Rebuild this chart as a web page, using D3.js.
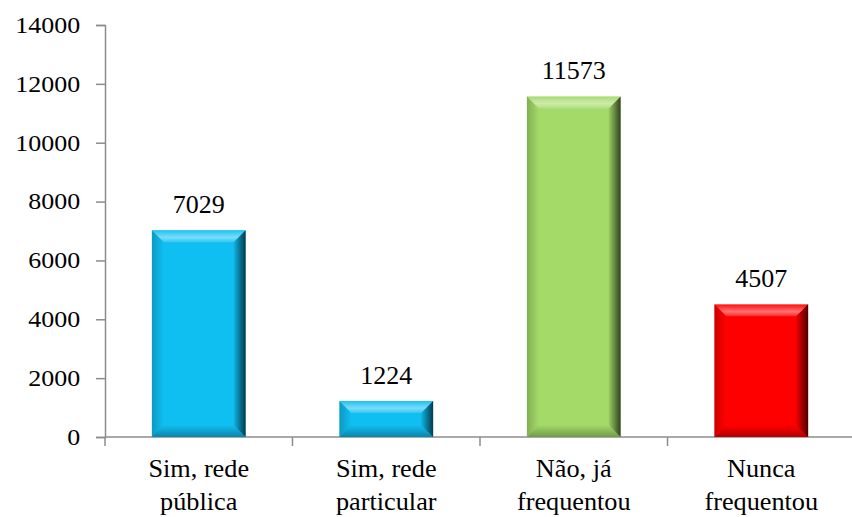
<!DOCTYPE html>
<html>
<head>
    <meta charset="utf-8">
    <script src="https://d3js.org/d3.v7.min.js"></script>
</head>
<body style="margin: 0; background: white;">
<div id="grafico"></div>
<script>
    // data
    var categories = [["Sim, rede", "pública"], ["Sim, rede", "particular"], ["Não, já", "frequentou"], ["Nunca", "frequentou"]];
    var values = [7029, 1224, 11573, 4507];
    var barColors = ["#0fbff2", "#0fbff2", "#a3da68", "#ff0000"];
    var yTicks = [0, 2000, 4000, 6000, 8000, 10000, 12000, 14000];

    var W = 852, H = 517;
    var plotLeft = 105, plotTop = 25, plotBottom = 437, plotRight = 855;
    var serif = "Liberation Serif";

    var svg = d3.select("#grafico").append("svg")
        .attr("width", W)
        .attr("height", H);

    var defs = svg.append("defs");
    function grad(id, x2, y2, stops) {
        var g = defs.append("linearGradient").attr("id", id)
            .attr("x1", 0).attr("y1", 0).attr("x2", x2).attr("y2", y2);
        stops.forEach(function(s) {
            g.append("stop").attr("offset", s[0]).attr("stop-color", s[1]).attr("stop-opacity", s[2]);
        });
    }
    grad("bvTop", 0, 1, [[0, "#fff", 0.05], [0.6, "#fff", 0.45], [1, "#fff", 0.15]]);
    grad("bvRight", 1, 0, [[0, "#000", 0.05], [1, "#000", 0.7]]);
    grad("bvBottom", 0, 1, [[0, "#000", 0.0], [1, "#000", 0.3]]);
    grad("bvLeft", 1, 0, [[0, "#000", 0.2], [1, "#000", 0.0]]);

    var x = d3.scaleBand()
        .domain(d3.range(values.length))
        .range([plotLeft, plotRight])
        .paddingInner(0.5)
        .paddingOuter(0.25);

    var y = d3.scaleLinear()
        .domain([0, 14000])
        .range([plotBottom, plotTop]);

    // Y axis
    var yAxis = svg.append("g")
        .attr("transform", "translate(" + plotLeft + ",0)")
        .call(d3.axisLeft(y).tickValues(yTicks).tickSize(9).tickPadding(13).tickFormat(d3.format("d")));
    yAxis.attr("font-family", serif).attr("font-size", 23);
    yAxis.select(".domain").attr("stroke", "#8c8c8c").attr("stroke-width", 1.5);
    yAxis.selectAll(".tick line").attr("stroke", "#8c8c8c").attr("stroke-width", 1.5);
    yAxis.selectAll(".tick text")
        .attr("font-family", serif)
        .attr("font-size", 23)
        .attr("fill", "#000")
        .attr("transform", "scale(1.13,1)");

    // X axis
    var xAxis = svg.append("g")
        .attr("transform", "translate(0," + plotBottom + ")");
    xAxis.append("line")
        .attr("x1", plotLeft).attr("x2", W)
        .attr("stroke", "#8c8c8c").attr("stroke-width", 1.5);
    var step = x.step();
    var x0band = x(0) - x.paddingOuter() * step;
    xAxis.selectAll(".xtick")
        .data(d3.range(values.length + 1))
        .enter().append("line")
        .attr("x1", function(i) { return x0band + i * step; })
        .attr("x2", function(i) { return x0band + i * step; })
        .attr("y1", 0).attr("y2", 9)
        .attr("stroke", "#8c8c8c").attr("stroke-width", 1.5);

    // category labels (two lines)
    svg.selectAll(".cat")
        .data(categories)
        .enter().append("g")
        .attr("transform", function(d, i) { return "translate(" + (x(i) + x.bandwidth() / 2) + ",0)"; })
        .each(function(d) {
            var g = d3.select(this);
            d.forEach(function(line, k) {
                g.append("text")
                    .attr("text-anchor", "middle")
                    .attr("font-family", serif)
                    .attr("y", 477 + k * 33)
                    .attr("font-size", 25)
                    .attr("transform", "scale(1.05,1)")
                    .text(line);
            });
        });

    // bars with bevel
    var b = 12;
    var bars = svg.selectAll(".bar")
        .data(values)
        .enter().append("g");

    bars.each(function(v, i) {
        var g = d3.select(this);
        var x0 = x(i), x1 = x(i) + x.bandwidth(), y0 = y(v), y1 = y(0);
        var bb = Math.min(b, (y1 - y0) / 2);
        g.append("rect")
            .attr("x", x0).attr("y", y0)
            .attr("width", x1 - x0).attr("height", y1 - y0)
            .attr("fill", barColors[i]);
        function poly(pts, fill) {
            g.append("polygon")
                .attr("points", pts.map(function(p) { return p.join(","); }).join(" "))
                .attr("fill", fill);
        }
        poly([[x0, y0], [x1, y0], [x1 - bb, y0 + bb], [x0 + bb, y0 + bb]], "url(#bvTop)");
        poly([[x0, y0], [x0 + bb, y0 + bb], [x0 + bb, y1 - bb], [x0, y1]], "url(#bvLeft)");
        poly([[x0, y1], [x0 + bb, y1 - bb], [x1 - bb, y1 - bb], [x1, y1]], "url(#bvBottom)");
        poly([[x1, y0], [x1, y1], [x1 - bb, y1 - bb], [x1 - bb, y0 + bb]], "url(#bvRight)");
    });

    // value labels
    svg.selectAll(".val")
        .data(values)
        .enter().append("text")
        .attr("text-anchor", "middle")
        .attr("font-family", serif)
        .attr("x", function(d, i) { return x(i) + x.bandwidth() / 2; })
        .attr("y", function(d) { return y(d) - 17; })
        .attr("font-size", 26)
        .text(function(d) { return d; });
</script>
</body>
</html>
